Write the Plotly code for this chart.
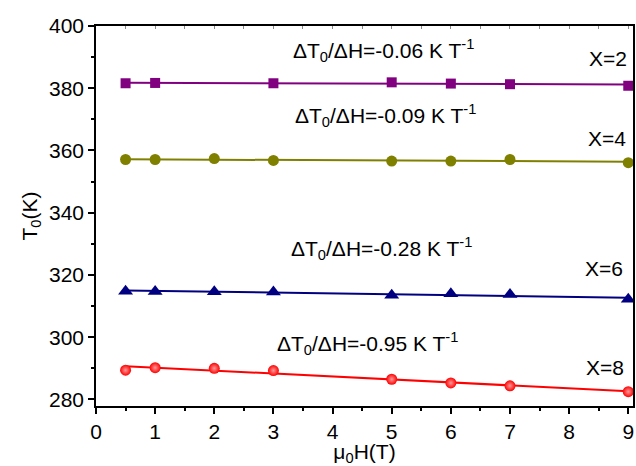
import numpy as np
import plotly.graph_objects as go

# Magnetic field (T) at which T0 was measured
field_x2 = [0.5, 1, 3, 5, 6, 7, 9]
field = [0.5, 1, 2, 3, 5, 6, 7, 9]

# Transition temperature T0 (K) for each composition
t0_x2 = [381.6, 381.7, 381.6, 381.9, 381.5, 381.3, 380.8]
t0_x4 = [357.1, 357.1, 357.4, 356.8, 356.6, 356.6, 357.1, 356.1]
t0_x6 = [314.8, 314.7, 314.6, 314.5, 313.5, 314.0, 313.7, 312.2]
t0_x8 = [289.4, 290.2, 290.0, 289.3, 286.5, 285.3, 284.4, 282.5]

# Fitted slopes dT0/dH (K/T)
slopes = [-0.06, -0.09, -0.28, -0.95]
labels = ["X=2", "X=4", "X=6", "X=8"]

series = [
    (field_x2, t0_x2, "#800080", "square", 10),
    (field, t0_x4, "#808000", "circle", 11),
    (field, t0_x6, "#000080", "triangle-up", 13),
    (field, t0_x8, "#ff0000", "circle", 11),
]

fig = go.Figure()

for (xs, ys, color, symbol, msize), slope in zip(series, slopes):
    xs_a = np.array(xs, dtype=float)
    ys_a = np.array(ys, dtype=float)
    intercept = ys_a.mean() - slope * xs_a.mean()
    fx = np.array([xs_a.min(), xs_a.max()])
    fig.add_trace(go.Scatter(x=fx, y=intercept + slope * fx, mode="lines",
                             line=dict(color=color, width=2), showlegend=False,
                             hoverinfo="skip"))
    marker = dict(symbol=symbol, size=msize, color=color, line=dict(width=0))
    if color == "#ff0000":
        marker["gradient"] = dict(type="radial", color="#ff9a9a")
    fig.add_trace(go.Scatter(x=xs, y=ys, mode="markers", marker=marker,
                             showlegend=False))

# invisible trace to carry the top axis
fig.add_trace(go.Scatter(x=[0, 9], y=[300, 300], xaxis="x2", mode="markers",
                         marker=dict(opacity=0), showlegend=False, hoverinfo="skip"))

font = dict(family="Liberation Sans, Arial, sans-serif", size=21, color="black")

slope_pos = [(3.30, 392.1), (3.33, 371.2), (3.27, 328.5), (3.02, 298.1)]
for (ax, ay), s in zip(slope_pos, slopes):
    fig.add_annotation(x=ax, y=ay, xanchor="left", yanchor="middle",
                       text=f"ΔT<sub>0</sub>/ΔH={s:.2f} K T<sup>-1</sup>",
                       showarrow=False, font=font)

label_pos = [(9.02, 389.7), (8.99, 363.8), (8.94, 322.1), (8.97, 290.2)]
for (lx, ly), lab in zip(label_pos, labels):
    fig.add_annotation(x=lx, y=ly, xanchor="right", yanchor="middle",
                       text=lab, showarrow=False, font=font)

fig.update_layout(
    width=636, height=466,
    margin=dict(l=96, r=1, t=26, b=59),
    paper_bgcolor="white", plot_bgcolor="white",
    font=font,
    xaxis=dict(range=[0, 9.08], tickmode="linear", tick0=0, dtick=1,
               ticks="outside", ticklen=6, tickwidth=1.5, tickcolor="black",
               minor=dict(ticks="outside", ticklen=3, dtick=0.5, tickcolor="black"),
               showline=True, linecolor="black", linewidth=1.5, mirror=True,
               showgrid=False, zeroline=False,
               title=dict(text="μ<sub>0</sub>H(T)", standoff=7, font=font)),
    xaxis2=dict(range=[0, 9.08], overlaying="x", side="top", matches="x",
                showticklabels=False, tickmode="linear", tick0=0, dtick=0.5,
                ticks="inside", ticklen=3, tickcolor="#888888",
                showgrid=False, zeroline=False, showline=False),
    yaxis=dict(range=[277.9, 400], tickmode="linear", tick0=280, dtick=20,
               ticks="outside", ticklen=6, tickwidth=1.5, tickcolor="black",
               minor=dict(ticks="outside", ticklen=3, dtick=10, tickcolor="black"),
               showline=True, linecolor="black", linewidth=1.5, mirror=True,
               showgrid=False, zeroline=False,
               title=dict(text="T<sub>0</sub>(K)", standoff=6, font=font)),
)

fig.write_html("out.html")
